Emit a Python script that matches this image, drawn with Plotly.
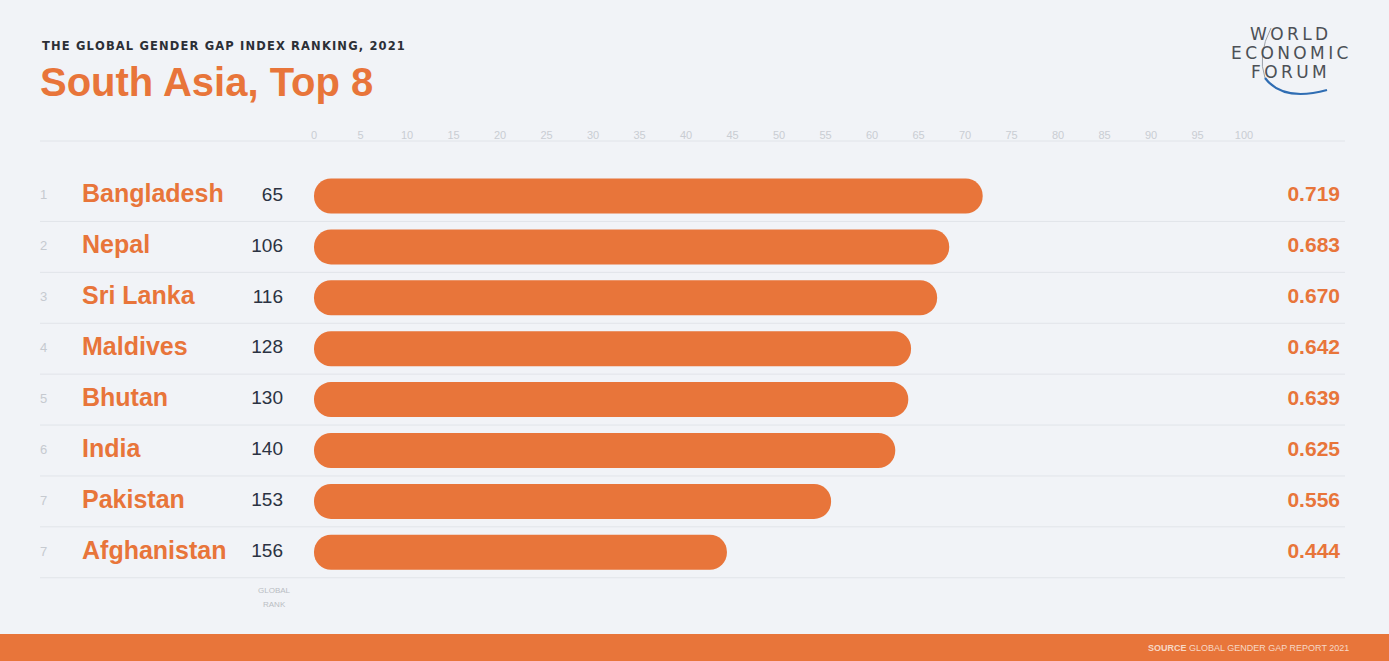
import plotly.graph_objects as go

# data
countries = ["Bangladesh", "Nepal", "Sri Lanka", "Maldives", "Bhutan", "India", "Pakistan", "Afghanistan"]
region_rank = ["1", "2", "3", "4", "5", "6", "7", "7"]
global_rank = [65, 106, 116, 128, 130, 140, 153, 156]
scores = [0.719, 0.683, 0.670, 0.642, 0.639, 0.625, 0.556, 0.444]
tick_values = list(range(0, 101, 5))

W, H = 1389, 661
ORANGE = "#e8753a"
BG = "#f1f3f7"
LINE = "#e1e4e9"

# pixel layout: x = 0 at 314px, 9.3 px per point; rows 50.9px apart, first at 196px
X0_PX, X_SCALE = 314, 9.3
Y0_PX, ROW = 196, 50.9
BAR_PX = 35


def px_to_x(px):
    return (px - X0_PX) / X_SCALE


def py_to_row(py):
    return (py - Y0_PX) / ROW


rows = list(range(len(countries)))
pct = [s * 100 for s in scores]

fig = go.Figure()

# bars
fig.add_trace(go.Bar(
    x=pct, base=[0] * len(rows), y=rows, orientation="h",
    width=BAR_PX / ROW,
    marker=dict(color=ORANGE, line=dict(width=0), cornerradius="50%"),
    hoverinfo="skip", showlegend=False,
))

# region rank (small grey)
fig.add_trace(go.Scatter(
    x=[px_to_x(40)] * len(rows), y=rows, mode="text", text=region_rank,
    textposition="middle right",
    textfont=dict(family="Liberation Sans", size=13, color="#c6cad0"),
    hoverinfo="skip", showlegend=False,
))

# country names
fig.add_trace(go.Scatter(
    x=[px_to_x(82)] * len(rows), y=rows, mode="text",
    text=["<b>%s</b>" % c for c in countries],
    textposition="middle right",
    textfont=dict(family="Liberation Sans", size=25, color=ORANGE),
    hoverinfo="skip", showlegend=False,
))

# global rank
fig.add_trace(go.Scatter(
    x=[px_to_x(283)] * len(rows), y=rows, mode="text",
    text=[str(r) for r in global_rank],
    textposition="middle left",
    textfont=dict(family="Liberation Sans", size=19, color="#2b3242"),
    hoverinfo="skip", showlegend=False,
))

# score labels
fig.add_trace(go.Scatter(
    x=[px_to_x(1340)] * len(rows), y=rows, mode="text",
    text=["<b>%.3f</b>" % s for s in scores],
    textposition="middle left",
    textfont=dict(family="Liberation Sans", size=21, color=ORANGE),
    hoverinfo="skip", showlegend=False,
))

# scale labels along the top
fig.add_trace(go.Scatter(
    x=tick_values, y=[py_to_row(136)] * len(tick_values), mode="text",
    text=[str(t) for t in tick_values], textposition="middle center",
    textfont=dict(family="Liberation Sans", size=11, color="#c9cdd3"),
    hoverinfo="skip", showlegend=False,
))

shapes = []
# top rule and row separators
shapes.append(dict(type="line", xref="paper", yref="y", x0=40 / W, x1=1345 / W,
                   y0=py_to_row(141), y1=py_to_row(141),
                   line=dict(color=LINE, width=1), layer="below"))
for r in rows:
    shapes.append(dict(type="line", xref="paper", yref="y", x0=40 / W, x1=1345 / W,
                       y0=r + 0.5, y1=r + 0.5,
                       line=dict(color=LINE, width=1), layer="below"))
# footer band
shapes.append(dict(type="rect", xref="paper", yref="paper", x0=0, x1=1,
                   y0=0, y1=(H - 634) / H, fillcolor=ORANGE, line=dict(width=0)))


def p(px, py):
    return "%.5f,%.5f" % (px / W, 1 - py / H)


# logo arcs
shapes.append(dict(type="path", xref="paper", yref="paper",
                   path="M %s Q %s %s" % (p(1271, 28), p(1257, 55), p(1265, 78)),
                   line=dict(color="#9aa0a8", width=1)))
shapes.append(dict(type="path", xref="paper", yref="paper",
                   path="M %s Q %s %s" % (p(1265, 78), p(1283, 102), p(1327, 90)),
                   line=dict(color="#2f6db3", width=2.2)))

subtitle = "THE GLOBAL GENDER GAP INDEX RANKING, 2021"
annotations = [
    dict(text="<b>%s</b>" % "\u200a".join(subtitle), x=40 / W, y=1 - 46 / H,
         xanchor="left", yanchor="middle",
         font=dict(family="DejaVu Sans", size=11.5, color="#2c2f36")),
    dict(text="<b>South Asia, Top 8</b>", x=38 / W, y=1 - 82 / H,
         xanchor="left", yanchor="middle",
         font=dict(family="Liberation Sans", size=40, color=ORANGE)),
    dict(text="GLOBAL", x=274 / W, y=1 - 590 / H, xanchor="center", yanchor="middle",
         font=dict(family="Liberation Sans", size=8, color="#b9bdc3")),
    dict(text="RANK", x=274 / W, y=1 - 604 / H, xanchor="center", yanchor="middle",
         font=dict(family="Liberation Sans", size=8, color="#b9bdc3")),
    dict(text="<b>SOURCE</b> GLOBAL GENDER GAP REPORT 2021", x=1351 / W, y=1 - 648 / H,
         xanchor="right", yanchor="middle",
         font=dict(family="Liberation Sans", size=9, color="#f7d8c6")),
]
for word, py in [("WORLD", 34), ("ECONOMIC", 53), ("FORUM", 72)]:
    annotations.append(dict(text="\u2009".join(word), x=1289 / W, y=1 - py / H,
                            xanchor="center", yanchor="middle",
                            font=dict(family="DejaVu Sans", size=17, color="#4c5056")))
for a in annotations:
    a.update(xref="paper", yref="paper", showarrow=False)

fig.update_layout(
    width=W, height=H,
    margin=dict(l=0, r=0, t=0, b=0),
    paper_bgcolor=BG, plot_bgcolor=BG,
    shapes=shapes, annotations=annotations,
    xaxis=dict(range=[px_to_x(0), px_to_x(W)], visible=False, fixedrange=True),
    yaxis=dict(range=[py_to_row(H), py_to_row(0)], visible=False, fixedrange=True),
    showlegend=False,
)

fig.write_html("out.html", config={"displayModeBar": False},
               post_script="document.body.style.margin='0';document.body.style.overflow='hidden';")
